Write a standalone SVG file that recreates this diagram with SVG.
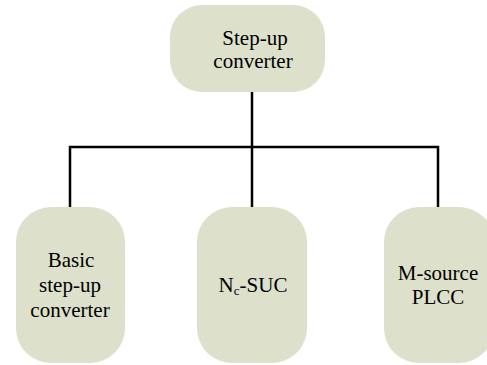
<svg xmlns="http://www.w3.org/2000/svg" width="487" height="365" viewBox="0 0 487 365">
  <style>
    .node { fill: #dde0cb; }
    .wire { stroke: #000; stroke-width: 2.5; fill: none; }
  </style>
  <rect width="487" height="365" fill="#fff"/>
  <g id="connectors">
    <line class="wire" x1="252" y1="92" x2="252" y2="207"/>
    <polyline class="wire" points="70,207 70,147 438,147 438,207"/>
  </g>
  <g font-family="Liberation Serif, serif" font-size="21" fill="#000" text-anchor="middle">
    <g id="step-up-converter">
      <rect class="node" x="170" y="5" width="155" height="87" rx="32" ry="32"/>
      <text x="255" y="45">Step-up</text>
      <text x="253" y="68">converter</text>
    </g>
    <g id="basic-step-up">
      <rect class="node" x="16" y="207" width="109" height="156" rx="35" ry="35"/>
      <text x="71" y="267">Basic</text>
      <text x="70" y="292">step-up</text>
      <text x="70" y="317">converter</text>
    </g>
    <g id="nc-suc">
      <rect class="node" x="197" y="207" width="110" height="156" rx="35" ry="35"/>
      <text x="253" y="292">N<tspan font-size="13" dy="3">c</tspan><tspan dy="-3">-SUC</tspan></text>
    </g>
    <g id="m-source-plcc">
      <rect class="node" x="384" y="207" width="110" height="156" rx="35" ry="35"/>
      <text x="438" y="280">M-source</text>
      <text x="438" y="304">PLCC</text>
    </g>
  </g>
</svg>
